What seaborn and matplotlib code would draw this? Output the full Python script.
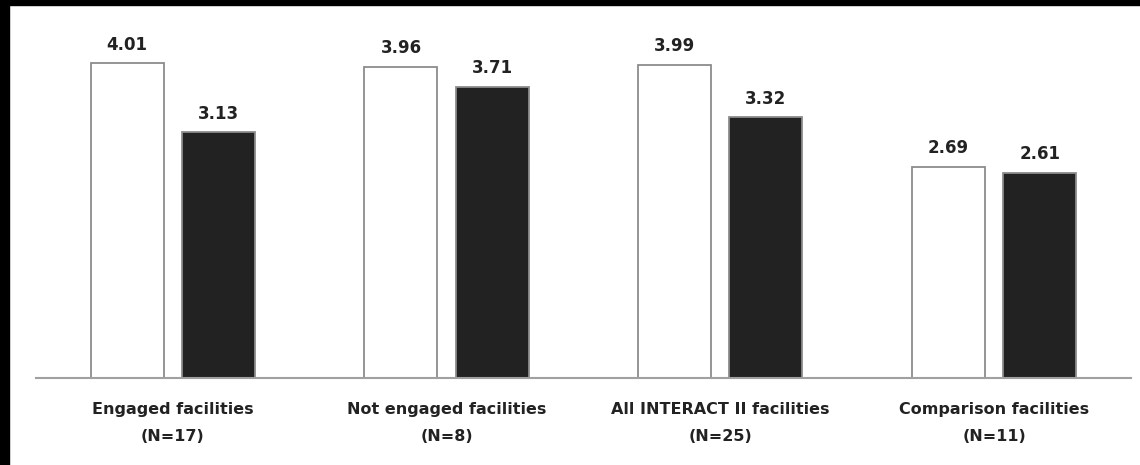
import seaborn as sns
import pandas as pd
import matplotlib.pyplot as plt
from matplotlib.patches import Rectangle

# datos
categories = ["Engaged facilities\n(N=17)", "Not engaged facilities\n(N=8)",
              "All INTERACT II facilities\n(N=25)", "Comparison facilities\n(N=11)"]
series_names = ["Pre", "Post"]
pre_values = [4.01, 3.96, 3.99, 2.69]
post_values = [3.13, 3.71, 3.32, 2.61]

df = pd.DataFrame({
    "category": categories * 2,
    "period": [series_names[0]] * 4 + [series_names[1]] * 4,
    "value": pre_values + post_values,
})

sns.set_style("white")
plt.rcParams["font.family"] = ["DejaVu Sans"]

fig = plt.figure(figsize=(11.4, 4.65), dpi=100)
ax = fig.add_axes([0.0316, 0.187, 0.9604, 0.79])

sns.barplot(data=df, x="category", y="value", hue="period", order=categories,
            hue_order=series_names, palette=["white", "#222222"],
            width=0.667, gap=0.2, edgecolor="#8c8c8c", linewidth=1.3,
            legend=False, ax=ax)

for c in ax.containers:
    ax.bar_label(c, fmt="%.2f", padding=7, fontsize=12, fontweight="bold", color="#222222")

ax.set_xlim(-0.5, 3.5)
ax.set_ylim(0, 4.68)
ax.set_yticks([])
ax.set_xlabel("")
ax.set_ylabel("")
ax.tick_params(axis="x", length=0, pad=17)
for lbl in ax.get_xticklabels():
    lbl.set_fontweight("bold")
    lbl.set_fontsize(11.5)
    lbl.set_color("#222222")
    lbl.set_linespacing(2.0)

for s in ["top", "right", "left"]:
    ax.spines[s].set_visible(False)
ax.spines["bottom"].set_color("#a0a0a0")
ax.spines["bottom"].set_linewidth(1.5)

# marco negro arriba e izquierda
fig.add_artist(Rectangle((0, 0), 9 / 1140, 1, transform=fig.transFigure, color="black", zorder=10))
fig.add_artist(Rectangle((0, 1 - 5 / 465), 1, 5 / 465, transform=fig.transFigure, color="black", zorder=10))

fig.savefig("out.png", dpi=100)
